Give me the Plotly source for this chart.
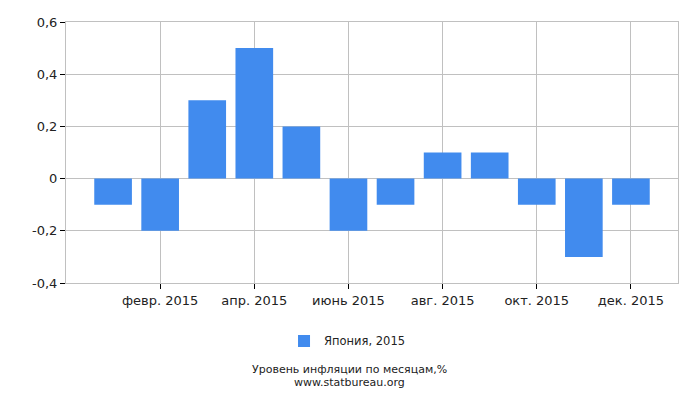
import plotly.graph_objects as go

months = ["янв. 2015", "февр. 2015", "март 2015", "апр. 2015", "май 2015", "июнь 2015",
          "июль 2015", "авг. 2015", "сент. 2015", "окт. 2015", "нояб. 2015", "дек. 2015"]
inflation = [-0.1, -0.2, 0.3, 0.5, 0.2, -0.2, -0.1, 0.1, 0.1, -0.1, -0.3, -0.1]
y_ticks = [-0.4, -0.2, 0, 0.2, 0.4, 0.6]
y_labels = ["-0,4", "-0,2", "0", "0,2", "0,4", "0,6"]

x_idx = list(range(len(months)))
x_tick_idx = x_idx[1::2]
x_tick_labels = months[1::2]

fig = go.Figure()
fig.add_trace(go.Bar(
    x=x_idx,
    y=inflation,
    width=0.8,
    marker_color="#418bee",
    marker_line_width=0,
    name="Япония, 2015",
    hovertext=months,
))

fig.update_layout(
    width=700,
    height=400,
    margin=dict(l=66, r=22, t=22, b=117),
    paper_bgcolor="white",
    plot_bgcolor="white",
    font=dict(family="DejaVu Sans", size=13, color="#222222"),
    showlegend=True,
    legend=dict(orientation="h", x=0.46, xanchor="center", y=-0.222, yanchor="middle",
                font=dict(size=11.5)),
    xaxis=dict(
        range=[-1, 12],
        tickvals=x_tick_idx,
        ticktext=x_tick_labels,
        showgrid=True,
        gridcolor="#c0c0c0",
        showline=True,
        linecolor="#c0c0c0",
        mirror=True,
        ticks="outside",
        ticklen=5,
        tickcolor="#000000",
        zeroline=False,
    ),
    yaxis=dict(
        range=[-0.4, 0.6],
        tickvals=y_ticks,
        ticktext=y_labels,
        showgrid=True,
        gridcolor="#c0c0c0",
        showline=True,
        linecolor="#c0c0c0",
        mirror=True,
        ticks="outside",
        ticklen=5,
        tickcolor="#000000",
        zeroline=False,
    ),
    annotations=[
        dict(text="Уровень инфляции по месяцам,%", xref="paper", yref="paper",
             x=0.464, y=-0.333, showarrow=False, font=dict(size=11), yanchor="middle"),
        dict(text="www.statbureau.org", xref="paper", yref="paper",
             x=0.464, y=-0.381, showarrow=False, font=dict(size=11), yanchor="middle"),
    ],
)

fig.write_html("out.html", config={"displayModeBar": False},
               post_script="document.body.style.margin='0';")
